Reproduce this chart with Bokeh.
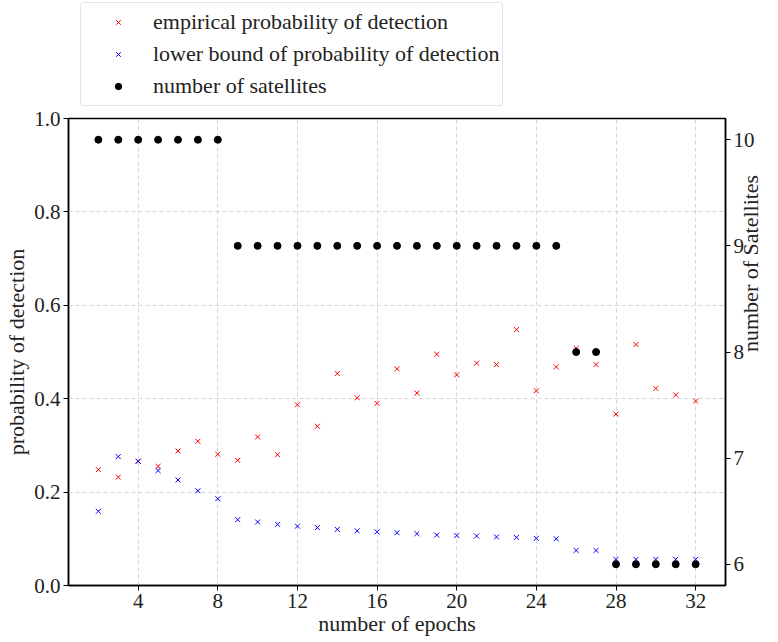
import math
from bokeh.plotting import figure
from bokeh.layouts import column
from bokeh.models import (Range1d, LinearAxis, Grid, FixedTicker, Legend, LegendItem,
                          CustomJSTickFormatter)
from bokeh.embed import file_html
from bokeh.resources import INLINE

epochs = list(range(2, 33))
empirical = [0.248, 0.232, 0.266, 0.255, 0.288, 0.309, 0.281, 0.268, 0.318, 0.280,
             0.387, 0.341, 0.454, 0.402, 0.390, 0.464, 0.412, 0.495, 0.451, 0.476,
             0.473, 0.548, 0.417, 0.468, 0.508, 0.473, 0.367, 0.516, 0.422, 0.408, 0.395]
lower_bound = [0.159, 0.276, 0.266, 0.246, 0.226, 0.203, 0.186, 0.141, 0.136, 0.131,
               0.127, 0.124, 0.120, 0.117, 0.115, 0.113, 0.111, 0.108, 0.107, 0.106,
               0.104, 0.103, 0.101, 0.100, 0.075, 0.075, 0.056, 0.056, 0.056, 0.056, 0.056]
satellites = [10, 10, 10, 10, 10, 10, 10, 9, 9, 9, 9, 9, 9, 9, 9, 9, 9, 9, 9, 9,
              9, 9, 9, 9, 8, 8, 6, 6, 6, 6, 6]
x_ticks = [4, 8, 12, 16, 20, 24, 28, 32]
left_ticks = [0.0, 0.2, 0.4, 0.6, 0.8, 1.0]
right_ticks = [6, 7, 8, 9, 10]
labels = ["empirical probability of detection",
          "lower bound of probability of detection",
          "number of satellites"]

FONT = "Liberation Serif"
TXT = "#222222"
W = 778

# ---------- main plot ----------
p = figure(width=W, height=532, output_backend="svg", toolbar_location=None,
           x_range=Range1d(0.5, 33.5), y_range=Range1d(0.0, 1.0),
           min_border_left=68, min_border_right=51, min_border_top=12, min_border_bottom=49)
p.extra_y_ranges = {"sat": Range1d(5.8, 10.2)}
p.outline_line_color = "black"
p.outline_line_width = 1.5


def style_axis(ax):
    ax.major_label_text_font = FONT
    ax.major_label_text_font_size = "21px"
    ax.major_label_text_color = TXT
    ax.axis_label_text_font = FONT
    ax.axis_label_text_font_size = "22px"
    ax.axis_label_text_font_style = "normal"
    ax.axis_label_text_color = TXT
    ax.minor_tick_line_color = None
    ax.major_tick_in = 0
    ax.major_tick_out = 5
    ax.major_label_standoff = 3
    ax.axis_line_color = "black"
    ax.axis_line_width = 1.5


style_axis(p.xaxis[0])
style_axis(p.yaxis[0])
p.xaxis[0].ticker = FixedTicker(ticks=x_ticks)
p.yaxis[0].ticker = FixedTicker(ticks=left_ticks)
p.yaxis[0].formatter = CustomJSTickFormatter(code="return tick.toFixed(1);")
p.xaxis[0].axis_label = "number of epochs"
p.yaxis[0].axis_label = "probability of detection"
p.xaxis[0].axis_label_standoff = 0
p.yaxis[0].axis_label_standoff = 2

rax = LinearAxis(y_range_name="sat", ticker=FixedTicker(ticks=right_ticks),
                 axis_label="number of Satellites")
style_axis(rax)
rax.major_tick_out = 5
rax.major_label_standoff = 3
rax.axis_label_standoff = -7
if hasattr(rax, "axis_label_orientation"):
    rax.axis_label_orientation = math.pi / 2
p.add_layout(rax, "right")

for g in (p.xgrid[0], p.ygrid[0]):
    g.grid_line_color = "#cccccc"
    g.grid_line_dash = "4 3"
    g.grid_line_alpha = 0.8
p.xgrid[0].ticker = FixedTicker(ticks=x_ticks)
p.ygrid[0].ticker = FixedTicker(ticks=left_ticks)
rgrid = Grid(dimension=1, axis=rax, grid_line_color="#cccccc", grid_line_dash="4 3",
             grid_line_alpha=0.8)
p.add_layout(rgrid)

p.scatter(epochs, empirical, marker="x", size=7, line_color="red", line_width=1)
p.scatter(epochs, lower_bound, marker="x", size=7, line_color="blue", line_width=1)
p.scatter(epochs, satellites, marker="circle", size=7, fill_color="black",
          line_color="black", y_range_name="sat")

# ---------- legend strip above (same series, drawn out of this strip's view) ----------
top = figure(width=W, height=106, output_backend="svg", toolbar_location=None,
             x_range=Range1d(100, 101), y_range=Range1d(100, 101),
             x_axis_location=None, y_axis_location=None,
             min_border_left=0, min_border_right=0, min_border_top=0, min_border_bottom=0)
top.outline_line_color = None
top.xgrid.visible = False
top.ygrid.visible = False
d1 = top.scatter(epochs, empirical, marker="x", size=6, line_color="red", line_width=1)
d2 = top.scatter(epochs, lower_bound, marker="x", size=6, line_color="blue", line_width=1)
d3 = top.scatter(epochs, satellites, marker="circle", size=6, fill_color="black",
                 line_color="black")

legend = Legend(items=[LegendItem(label=labels[0], renderers=[d1]),
                       LegendItem(label=labels[1], renderers=[d2]),
                       LegendItem(label=labels[2], renderers=[d3])],
                location=(12, 0))
legend.label_text_font = FONT
legend.label_text_font_size = "22px"
legend.label_text_color = TXT
legend.padding = 3
legend.margin = 0
legend.spacing = 0
legend.glyph_width = 68
legend.glyph_height = 16
legend.label_height = 32
legend.label_standoff = 1
legend.border_line_color = "#cccccc"
legend.border_line_width = 1
legend.border_radius = 4
legend.background_fill_alpha = 1.0
top.add_layout(legend, "center")

layout = column(top, p, spacing=0)
open("out.html", "w").write(file_html(layout, INLINE))
